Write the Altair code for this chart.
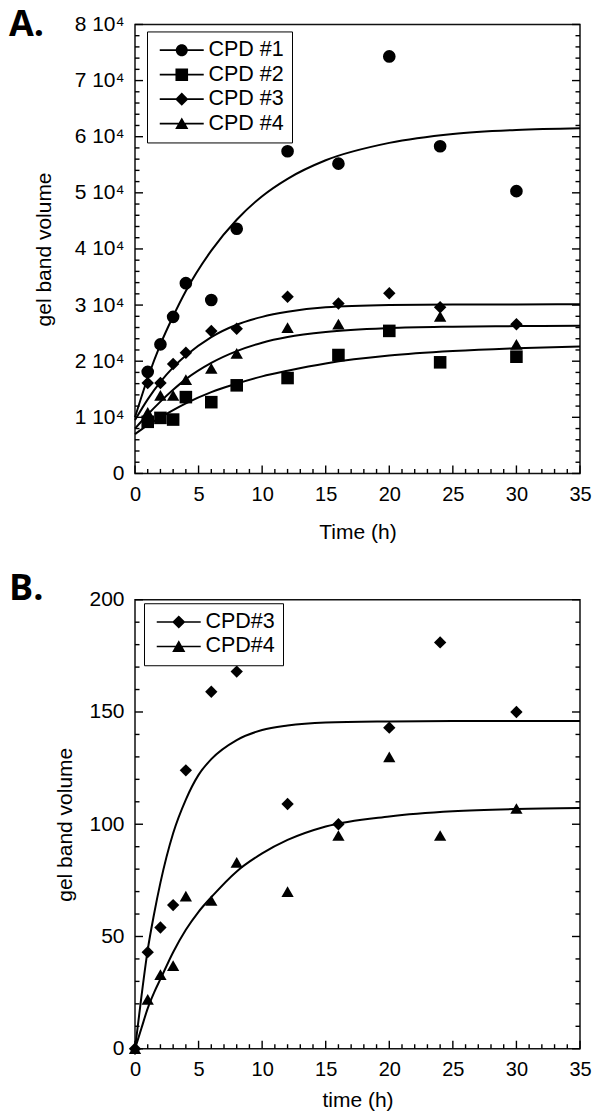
import altair as alt
import pandas as pd

# ---------------- Panel A ----------------
names_a = ["CPD #1", "CPD #2", "CPD #3", "CPD #4"]
time_a = [1, 2, 3, 4, 6, 8, 12, 16, 20, 24, 30]
cpd1_a = [18100, 23000, 27900, 33900, 30900, 43600, 57400, 55200, 74300, 58300, 50300]
cpd2_a = [9200, 9900, 9600, 13600, 12700, 15700, 17000, 21100, 25400, 19800, 20800]
cpd3_a = [16100, 16100, 19500, 21500, 25400, 25800, 31500, 30300, 32100, 29600, 26600]
time_a4 = [1, 2, 3, 4, 6, 8, 12, 16, 24, 30]
cpd4_a = [10900, 13900, 13900, 16700, 18700, 21400, 26000, 26600, 28000, 23000]

fit_time_a = [0, 1, 2, 3, 4, 6, 8, 10, 12, 15, 20, 25, 30, 35]
fit1_a = [10000, 17000, 23000, 28000, 32500, 39700, 45200, 49400, 52500, 55800, 58900, 60500, 61200, 61500]
fit2_a = [7000, 8600, 10000, 11300, 12500, 14500, 16000, 17300, 18300, 19600, 21000, 21800, 22300, 22600]
fit3_a = [9500, 13200, 16300, 18900, 21000, 24300, 26500, 27900, 28800, 29600, 30000, 30100, 30100, 30150]
fit4_a = [8000, 10500, 12800, 14900, 16800, 19700, 21800, 23300, 24300, 25200, 25900, 26150, 26250, 26300]

# ---------------- Panel B ----------------
names_b = ["CPD#3", "CPD#4"]
time_b = [0, 1, 2, 3, 4, 6, 8, 12, 16, 20, 24, 30]
cpd3_b = [0, 43, 54, 64, 124, 159, 168, 109, 100, 143, 181, 150]
cpd4_b = [0, 22, 33, 37, 68, 66, 83, 70, 95, 130, 95, 107]
fit_time_b = [0, 0.5, 1, 1.5, 2, 3, 4, 5, 6, 8, 10, 12, 15, 20, 25, 30, 35]
fit3_b = [0, 23, 44, 60, 74, 96, 111, 122, 129, 137.5, 142, 144, 145.3, 145.8, 146, 146, 146]
fit4_b = [0, 9, 18, 25, 31, 43, 53, 61, 67.5, 79, 87, 93, 99, 103.5, 105.8, 106.8, 107.2]

# ---------------- Axis ticks / labels ----------------
x_major = [0, 5, 10, 15, 20, 25, 30, 35]
x_minor = [v for v in range(0, 36) if v % 5 != 0]
ya_major = [0, 10000, 20000, 30000, 40000, 50000, 60000, 70000, 80000]
ya_minor = [v for v in range(0, 80001, 2000) if v % 10000 != 0]
yb_major = [0, 50, 100, 150, 200]
yb_minor = [v for v in range(0, 201, 10) if v % 50 != 0]

W, H = 445, 449
FONT = "Liberation Sans"
MAJ, MIN = 8, 4.5

shapes4 = ["circle", "square", "diamond", "triangle-up"]
sizes4 = [160, 150, 150, 140]

# legend symbols: a thin filled bar (the line) with the marker in its middle
LINE = "M-1,-0.14H6.33V0.14H-1Z"
leg_paths = {
    "circle": LINE + "M3.67,0A1,1,0,1,1,1.67,0A1,1,0,1,1,3.67,0Z",
    "square": LINE + "M1.62,-1.05H3.72V1.05H1.62Z",
    "diamond": LINE + "M2.67,-1.1L3.77,0L2.67,1.1L1.57,0Z",
    "triangle-up": LINE + "M2.67,-1.05L3.77,0.9L1.57,0.9Z",
}


def long_df(times_list, values_list, names):
    rows = []
    for ts, vs, n in zip(times_list, values_list, names):
        for t, v in zip(ts, vs):
            rows.append({"t": t, "v": v, "s": n})
    return pd.DataFrame(rows)


def panel(points, fits, names, shapes, sizes, ydomain, ymaj, ymin, label_expr,
          xtitle, xtitle_pad, ytitle_pad, letter, title_dy, legx, legy, rowpad):
    xs = alt.Scale(domain=[0, 35], nice=False, zero=False)
    ys = alt.Scale(domain=ydomain, nice=False, zero=False)
    xaxis = alt.Axis(values=x_major, tickSize=0, domain=False, grid=False,
                     labelFontSize=20, labelFont=FONT, labelColor="black",
                     labelPadding=11, labelFlush=False, title=xtitle,
                     titleFontSize=21, titleFont=FONT, titleFontWeight="normal",
                     titleColor="black", titlePadding=xtitle_pad)
    yaxis_kw = dict(values=ymaj, tickSize=0, domain=False, grid=False,
                    labelFontSize=21, labelFont=FONT, labelColor="black",
                    labelPadding=11, title="gel band volume",
                    titleFontSize=21, titleFont=FONT, titleFontWeight="normal",
                    titleColor="black", titlePadding=ytitle_pad)
    if label_expr:
        yaxis_kw["labelExpr"] = label_expr
    yaxis = alt.Axis(**yaxis_kw)
    X = alt.X("t:Q", scale=xs, axis=xaxis)
    Y = alt.Y("v:Q", scale=ys, axis=yaxis)

    tick_style = dict(color="black", strokeWidth=1.4)
    layers = []
    for vals, ln in ((x_major, MAJ), (x_minor, MIN)):
        layers.append(alt.Chart(pd.DataFrame({"t": vals})).mark_rule(**tick_style).encode(
            x=X, y=alt.value(H), y2=alt.value(H - ln)))
    for vals, ln in ((ymaj, MAJ), (ymin, MIN)):
        df = pd.DataFrame({"v": vals})
        layers.append(alt.Chart(df).mark_rule(**tick_style).encode(
            y=Y, x=alt.value(0), x2=alt.value(ln)))
        layers.append(alt.Chart(df).mark_rule(**tick_style).encode(
            y=Y, x=alt.value(W), x2=alt.value(W - ln)))

    lines = alt.Chart(fits).mark_line(color="black", strokeWidth=2, interpolate="monotone").encode(
        x=X, y=Y, detail="s:N")
    pts = alt.Chart(points).mark_point(filled=True, color="black", opacity=1).encode(
        x=X, y=Y,
        shape=alt.Shape("s:N", scale=alt.Scale(domain=names, range=shapes), legend=None),
        size=alt.Size("s:N", scale=alt.Scale(domain=names, range=sizes), legend=None))
    leg = alt.Chart(points).mark_point(filled=True, color="black", opacity=0).encode(
        x=X, y=Y,
        shape=alt.Shape("s:N", scale=alt.Scale(domain=names, range=[leg_paths[s] for s in shapes]),
                        legend=alt.Legend(title=None, orient="none", legendX=legx, legendY=legy,
                                          strokeColor="black", fillColor="white", padding=8,
                                          labelFontSize=21.5, labelFont=FONT, labelColor="black",
                                          labelOffset=32, labelLimit=0, symbolSize=144,
                                          symbolStrokeWidth=0, symbolFillColor="black",
                                          symbolOpacity=1, rowPadding=rowpad)))
    layers += [lines, pts, leg]
    return alt.layer(*layers).resolve_scale(shape="independent").properties(
        width=W, height=H,
        title=alt.Title(letter, anchor="start", frame="group", dx=-126, dy=title_dy,
                        fontSize=36, font="Open Sans", fontWeight="bold", color="black"))


pts_a = long_df([time_a, time_a, time_a, time_a4], [cpd1_a, cpd2_a, cpd3_a, cpd4_a], names_a)
fits_a = long_df([fit_time_a] * 4, [fit1_a, fit2_a, fit3_a, fit4_a], names_a)
pts_b = long_df([time_b, time_b], [cpd3_b, cpd4_b], names_b)
fits_b = long_df([fit_time_b] * 2, [fit3_b, fit4_b], names_b)

expr_a = "datum.value == 0 ? '0' : format(datum.value / 10000, 'd') + ' 10\u2074'"

chart_a = panel(pts_a, fits_a, names_a, shapes4, sizes4, [0, 80000], ya_major, ya_minor,
                expr_a, "Time (h)", 17, 20, "A.", 34.7, 12, 7, 1.5)
chart_b = panel(pts_b, fits_b, names_b, shapes4[2:], sizes4[2:], [0, 200], yb_major, yb_minor,
                None, "time (h)", 10, 13, "B.", 23.7, 9, 3.5, 1.5)

chart = alt.vconcat(chart_a, chart_b, spacing=26.3).properties(
    padding={"left": 0, "top": -2.55, "right": 0, "bottom": 0}
).configure_view(stroke="#111", strokeWidth=1.5)

chart.save("out.html", embed_options={"renderer": "svg", "actions": False})
